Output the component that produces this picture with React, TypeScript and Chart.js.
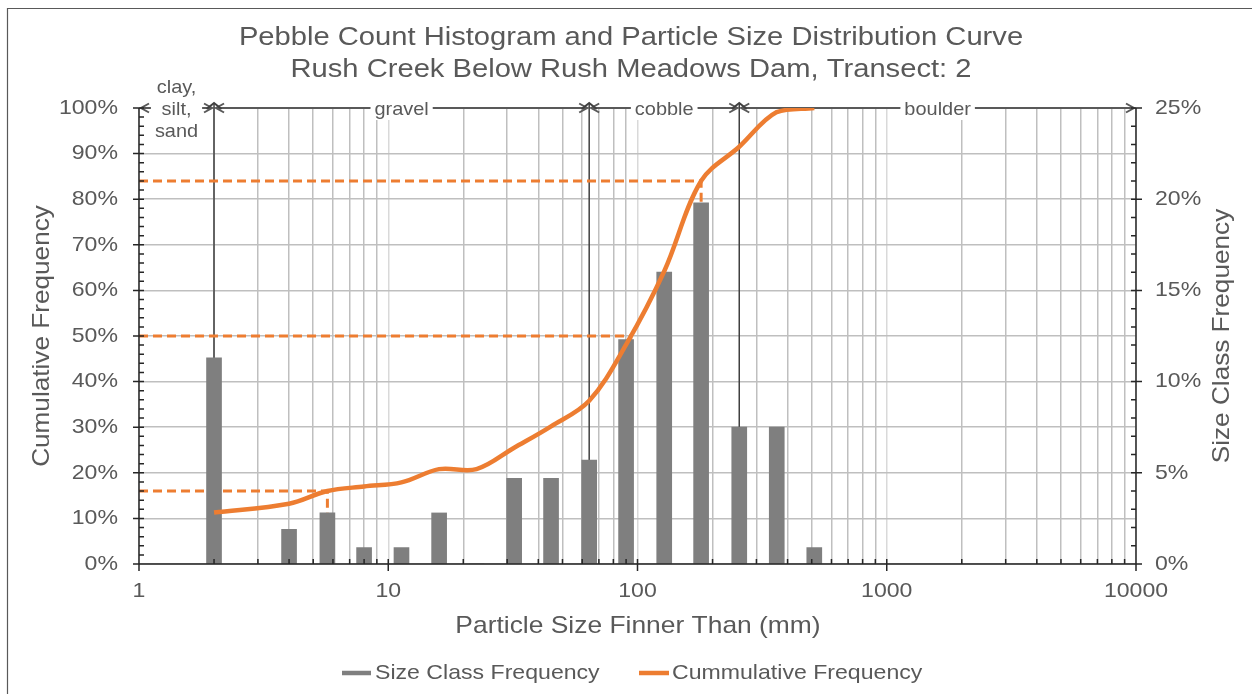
import React, { useEffect, useRef } from "react";
import { Chart, registerables } from "chart.js";

Chart.register(...registerables);

// ---------- data ----------
const sizes = [2, 4, 5.7, 8, 11.3, 16, 22.6, 32, 45, 64, 90, 128, 180, 256, 362, 512];
const classFreq = [11.3, 1.9, 2.8, 0.9, 0.9, 2.8, 0, 4.7, 4.7, 5.7, 12.3, 16.0, 19.8, 7.5, 7.5, 0.9];
const cumFreq = [11.3, 13.2, 16.0, 17.0, 17.9, 20.8, 20.8, 25.5, 30.2, 35.8, 48.1, 64.2, 84.0, 91.5, 99.1, 100];
const dLabels = ["D16", "D50", "D84"];
const dSizes = [5.7, 94, 180];
const dPercents = [16, 50, 84];
const classBounds = [1, 2, 64, 256, 10000];
const classNames = [["clay,", "silt,", "sand"], ["gravel"], ["cobble"], ["boulder"]];
const xTickLabels = [1, 10, 100, 1000, 10000];
const yTicks = [0, 10, 20, 30, 40, 50, 60, 70, 80, 90, 100];
const y2Ticks = [0, 5, 10, 15, 20, 25];
const titleLines = [
  "Pebble Count Histogram and Particle Size Distribution Curve",
  "Rush Creek Below Rush Meadows Dam, Transect: 2",
];
const xTitle = "Particle Size Finner Than (mm)";
const yTitle = "Cumulative Frequency";
const y2Title = "Size Class Frequency";
const seriesNames = ["Size Class Frequency", "Cummulative Frequency"];

const FONT = '"Liberation Sans", Arial, sans-serif';
const TXT = "#595959";
const ORANGE = "#ED7D31";
const GRAY_BAR = "#7F7F7F";
const AXIS = "#262626";
const SX = 1.1;

function drawText(ctx: CanvasRenderingContext2D, text: string, x: number, y: number, size: number, align: CanvasTextAlign = "center", rotate = 0, sx = SX, color = TXT) {
  ctx.save();
  ctx.translate(x, y);
  if (rotate) ctx.rotate(rotate);
  ctx.scale(sx, 1);
  ctx.font = `${size}px ${FONT}`;
  ctx.fillStyle = color;
  ctx.textAlign = align;
  ctx.textBaseline = "middle";
  ctx.fillText(text, 0, 0);
  ctx.restore();
}

function textW(ctx: CanvasRenderingContext2D, text: string, size: number, sx = SX) {
  ctx.save();
  ctx.font = `${size}px ${FONT}`;
  const w = ctx.measureText(text).width * sx;
  ctx.restore();
  return w;
}

function chevron(ctx: CanvasRenderingContext2D, tx: number, ty: number, dir: string, len = 8, half = 4.5) {
  ctx.beginPath();
  if (dir === "left") {
    ctx.moveTo(tx + len, ty - half); ctx.lineTo(tx, ty); ctx.lineTo(tx + len, ty + half);
  } else if (dir === "right") {
    ctx.moveTo(tx - len, ty - half); ctx.lineTo(tx, ty); ctx.lineTo(tx - len, ty + half);
  } else {
    ctx.moveTo(tx - half - 3, ty + len - 2); ctx.lineTo(tx, ty); ctx.lineTo(tx + half + 3, ty + len - 2);
  }
  ctx.stroke();
}

const LABEL_SIZE = 19;
const LABEL_SX = 1.05;

const decoPlugin = {
  id: "deco",
  beforeDraw(chart: any) {
    const ctx = chart.ctx as CanvasRenderingContext2D;
    ctx.save();
    ctx.fillStyle = "#ffffff";
    ctx.fillRect(0, 0, chart.width, chart.height);
    ctx.strokeStyle = "#595959";
    ctx.lineWidth = 1.2;
    ctx.beginPath();
    ctx.moveTo(7.5, chart.height);
    ctx.lineTo(7.5, 8.5);
    ctx.lineTo(chart.width, 8.5);
    ctx.stroke();
    ctx.restore();
  },
  beforeDatasetsDraw(chart: any) {
    const ctx = chart.ctx as CanvasRenderingContext2D;
    const x = chart.scales.x;
    const y = chart.scales.y;
    const yTop = y.getPixelForValue(100);
    const yBot = y.getPixelForValue(0);
    ctx.save();
    const widths = classNames.map((lines) => Math.max(...lines.map((l) => textW(ctx, l, LABEL_SIZE, LABEL_SX))));
    // label backgrounds
    for (let i = 0; i < classNames.length; i++) {
      const lx = x.getPixelForValue(Math.sqrt(classBounds[i] * classBounds[i + 1]));
      const w = widths[i];
      const multi = classNames[i].length > 1;
      const top = multi ? yTop - 36 : yTop - 12;
      const bottom = multi ? yTop + 36 : yTop + 12;
      ctx.fillStyle = "#ffffff";
      ctx.fillRect(lx - w / 2 - 4, top, w + 8, bottom - top);
    }
    // horizontal annotation line segments
    ctx.strokeStyle = "#595959";
    ctx.lineWidth = 2;
    for (let i = 0; i < classNames.length; i++) {
      const a = x.getPixelForValue(classBounds[i]);
      const b = x.getPixelForValue(classBounds[i + 1]);
      const lx = x.getPixelForValue(Math.sqrt(classBounds[i] * classBounds[i + 1]));
      const w = widths[i];
      ctx.beginPath();
      ctx.moveTo(a + 2, yTop);
      ctx.lineTo(lx - w / 2 - 4, yTop);
      ctx.moveTo(lx + w / 2 + 4, yTop);
      ctx.lineTo(b - 2, yTop);
      ctx.stroke();
      chevron(ctx, a + 2, yTop, "left");
      chevron(ctx, b - 2, yTop, "right");
    }
    // vertical class boundary lines
    ctx.strokeStyle = "#404040";
    for (let i = 1; i < classBounds.length - 1; i++) {
      const px = x.getPixelForValue(classBounds[i]);
      ctx.lineWidth = 1.5;
      ctx.beginPath();
      ctx.moveTo(px, yTop - 5);
      ctx.lineTo(px, yBot);
      ctx.stroke();
      ctx.lineWidth = 2;
      chevron(ctx, px, yTop - 5, "up");
    }
    // label texts
    for (let i = 0; i < classNames.length; i++) {
      const lx = x.getPixelForValue(Math.sqrt(classBounds[i] * classBounds[i + 1]));
      const lines = classNames[i];
      const lh = 22;
      lines.forEach((l, k) => {
        const ly = yTop + (k - (lines.length - 1) / 2) * lh + 2;
        drawText(ctx, l, lx, ly, LABEL_SIZE, "center", 0, LABEL_SX);
      });
    }
    ctx.restore();
  },
  afterDatasetsDraw(chart: any) {
    const ctx = chart.ctx as CanvasRenderingContext2D;
    const x = chart.scales.x;
    const y = chart.scales.y;
    const y2 = chart.scales.y2;
    const L = chart.chartArea.left, R = chart.chartArea.right, T = chart.chartArea.top, B = chart.chartArea.bottom;
    ctx.save();
    ctx.strokeStyle = AXIS;
    ctx.lineWidth = 1.5;
    ctx.beginPath();
    ctx.moveTo(L, T); ctx.lineTo(L, B);
    ctx.moveTo(R, T); ctx.lineTo(R, B);
    ctx.moveTo(L - 6, B); ctx.lineTo(R + 6, B);
    for (let v = 0; v <= 100; v += 2) {
      const py = y.getPixelForValue(v);
      if (v % 10 === 0) { ctx.moveTo(L - 6, py); ctx.lineTo(L + 5, py); }
      else { ctx.moveTo(L, py); ctx.lineTo(L + 5, py); }
    }
    for (let v = 0; v <= 25; v += 1) {
      const py = y2.getPixelForValue(v);
      if (v % 5 === 0) { ctx.moveTo(R - 5, py); ctx.lineTo(R + 6, py); }
      else { ctx.moveTo(R - 5, py); ctx.lineTo(R, py); }
    }
    for (let k = 0; k <= 4; k++) {
      for (let m = 1; m <= 9; m++) {
        const v = m * Math.pow(10, k);
        if (v > 10000) break;
        const px = x.getPixelForValue(v);
        if (m === 1) { ctx.moveTo(px, B - 5); ctx.lineTo(px, B + 7); }
        else { ctx.moveTo(px, B - 5); ctx.lineTo(px, B); }
      }
    }
    ctx.stroke();
    ctx.restore();
  },
  afterDraw(chart: any) {
    const ctx = chart.ctx as CanvasRenderingContext2D;
    const ca = chart.chartArea;
    const x = chart.scales.x;
    const y = chart.scales.y;
    const y2 = chart.scales.y2;
    const midY = (ca.top + ca.bottom) / 2;
    // tick labels
    xTickLabels.forEach((v) => drawText(ctx, String(v), x.getPixelForValue(v), ca.bottom + 27, 21));
    yTicks.forEach((v) => drawText(ctx, v + "%", ca.left - 21, y.getPixelForValue(v), 21, "right"));
    y2Ticks.forEach((v) => drawText(ctx, v + "%", ca.right + 19, y2.getPixelForValue(v), 21, "left"));
    // titles
    drawText(ctx, titleLines[0], 631, 38, 26.5);
    drawText(ctx, titleLines[1], 631, 70, 26.5);
    drawText(ctx, xTitle, 638, 626, 24);
    drawText(ctx, yTitle, 42, midY, 24, "center", -Math.PI / 2, 1.09);
    drawText(ctx, y2Title, 1222, midY, 24, "center", -Math.PI / 2, 1.09);
    // legend
    ctx.save();
    const ly = 673;
    ctx.lineWidth = 4.5;
    ctx.strokeStyle = GRAY_BAR;
    ctx.beginPath(); ctx.moveTo(342, ly); ctx.lineTo(371, ly); ctx.stroke();
    drawText(ctx, seriesNames[0], 375, ly, 21, "left");
    ctx.strokeStyle = ORANGE;
    ctx.beginPath(); ctx.moveTo(639, ly); ctx.lineTo(669, ly); ctx.stroke();
    drawText(ctx, seriesNames[1], 672, ly, 21, "left");
    ctx.restore();
  },
};

export default function App() {
  const ref = useRef<HTMLCanvasElement>(null);
  useEffect(() => {
    if (!ref.current) return;
    const barData = sizes.map((s, i) => ({ x: s, y: classFreq[i] }));
    const cumData = sizes.map((s, i) => ({ x: s, y: cumFreq[i] }));
    const dashSets = dSizes.map((d, i) => ({
      type: "line" as const,
      label: dLabels[i],
      data: [
        { x: 1, y: dPercents[i] },
        { x: d, y: dPercents[i] },
        { x: d, y: 0 },
      ],
      borderColor: ORANGE,
      borderWidth: 3,
      borderDash: [9, 5],
      pointRadius: 0,
      tension: 0,
      yAxisID: "y",
      order: 3,
    }));
    const chart = new Chart(ref.current, {
      type: "bar",
      data: {
        datasets: [
          {
            type: "line",
            label: seriesNames[1],
            data: cumData,
            borderColor: ORANGE,
            borderWidth: 4.5,
            tension: 0.35,
            pointRadius: 0,
            yAxisID: "y",
            order: 1,
          } as any,
          {
            type: "bar",
            label: seriesNames[0],
            data: barData,
            backgroundColor: GRAY_BAR,
            barThickness: 15,
            yAxisID: "y2",
            order: 2,
          } as any,
          ...(dashSets as any[]),
        ],
      },
      options: {
        responsive: false,
        animation: false,
        layout: { padding: { top: 108, left: 0, right: 0, bottom: 0 } },
        plugins: { legend: { display: false }, title: { display: false }, tooltip: { enabled: false } },
        scales: {
          x: {
            type: "logarithmic",
            min: 1,
            max: 10000,
            offset: false,
            afterBuildTicks: (s: any) => {
              const t: any[] = [];
              for (let k = 0; k <= 3; k++) for (let m = 1; m <= 9; m++) t.push({ value: m * Math.pow(10, k) });
              t.push({ value: 10000 });
              s.ticks = t;
            },
            afterFit: (s: any) => { s.height = 130; },
            ticks: { display: false, autoSkip: false, maxRotation: 0 },
            grid: {
              offset: false,
              drawTicks: false,
              lineWidth: 1.5,
              color: (c: any) => {
                const v = c.tick ? c.tick.value : 0;
                return xTickLabels.includes(v) ? "#D9D9D9" : "#BFBFBF";
              },
            },
            border: { display: false },
          },
          y: {
            position: "left",
            min: 0,
            max: 100,
            afterFit: (s: any) => { s.width = 139; },
            ticks: { display: false, stepSize: 10 },
            grid: { drawTicks: false, color: "#BFBFBF", lineWidth: 1.5 },
            border: { display: false },
          },
          y2: {
            position: "right",
            min: 0,
            max: 25,
            afterFit: (s: any) => { s.width = 1252 - 1136; },
            ticks: { display: false, stepSize: 5 },
            grid: { display: false, drawTicks: false },
            border: { display: false },
          },
        },
      },
      plugins: [decoPlugin],
    } as any);
    return () => chart.destroy();
  }, []);
  return (
    <div style={{ position: "fixed", left: 0, top: 0, width: 1252, height: 694 }}>
      <canvas ref={ref} width={1252} height={694} style={{ display: "block" }} />
    </div>
  );
}
